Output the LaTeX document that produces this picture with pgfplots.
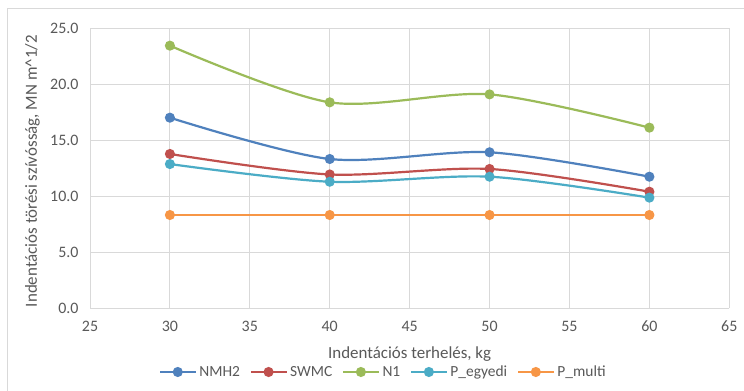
\documentclass[border=0pt]{standalone}
\usepackage{pgfplots}
\pgfplotsset{compat=1.18}
\usepackage{fontspec}
\setmainfont{Carlito}
\definecolor{cNMH}{HTML}{4F81BD}
\definecolor{cSWMC}{HTML}{C0504D}
\definecolor{cN}{HTML}{9BBB59}
\definecolor{cPe}{HTML}{4BACC6}
\definecolor{cPm}{HTML}{F79646}
\definecolor{txt}{HTML}{595959}
\definecolor{grd}{HTML}{D9D9D9}
\begin{document}
\begin{tikzpicture}
\useasboundingbox (0,0) rectangle (744bp,391bp);
\fill[white] (0,0) rectangle (744bp,391bp);
\draw[grd, line width=1bp] (7.5bp,0) -- (7.5bp,382bp) -- (744bp,382bp);
\begin{axis}[
  at={(90bp,82.7bp)}, anchor=south west,
  scale only axis, width=639.3bp, height=280bp,
  xmin=25, xmax=65, ymin=0, ymax=25,
  xtick={25,30,...,65}, ytick={0,5,...,25},
  grid=major, major grid style={grd, line width=0.9bp},
  axis line style={grd, line width=0.9bp},
  axis x line*=bottom, axis y line*=left,
  tick style={draw=none},
  /pgf/number format/assume math mode=true,
  yticklabel style={/pgf/number format/fixed, /pgf/number format/fixed zerofill, /pgf/number format/precision=1, xshift=-8bp},
  ticklabel style={font=\fontsize{16}{18}\selectfont, text=txt},
  xticklabel style={yshift=-9bp},
  xlabel={Indentációs terhelés, kg},
  ylabel={Indentációs törési szívósság, MN m\^{}1/2},
  label style={font=\fontsize{17}{19}\selectfont, text=txt},
  xlabel style={at={(axis description cs:0.5,-0.163)}, anchor=center},
  ylabel style={at={(axis description cs:-0.09,0.49)}, anchor=center},
  legend columns=5,
  legend style={at={(axis description cs:0.459,-0.2275)}, anchor=center, draw=none, fill=none,
    font=\fontsize{15.5}{17}\selectfont, text=txt, column sep=8bp, inner sep=0pt,
    /tikz/every odd column/.style={column sep=1bp}},
  legend image code/.code={\draw[#1, mark repeat=2, mark phase=2] plot coordinates {(0bp,0bp) (17.5bp,0bp) (35bp,0bp)};},
  every axis plot/.append style={line width=2.2bp, mark=*, mark size=3.9bp, smooth, tension=0.5},
]
\addplot[cNMH, mark options={fill=cNMH}] coordinates {(30,17.02) (40,13.33) (50,13.93) (60,11.75)};
\addlegendentry{NMH2}
\addplot[cSWMC, mark options={fill=cSWMC}] coordinates {(30,13.78) (40,11.95) (50,12.44) (60,10.41)};
\addlegendentry{SWMC}
\addplot[cN, mark options={fill=cN}] coordinates {(30,23.45) (40,18.39) (50,19.10) (60,16.13)};
\addlegendentry{N1}
\addplot[cPe, mark options={fill=cPe}] coordinates {(30,12.88) (40,11.30) (50,11.75) (60,9.88)};
\addlegendentry{P\_egyedi}
\addplot[cPm, mark options={fill=cPm}] coordinates {(30,8.33) (40,8.33) (50,8.33) (60,8.33)};
\addlegendentry{P\_multi}
\end{axis}
\end{tikzpicture}
\end{document}
